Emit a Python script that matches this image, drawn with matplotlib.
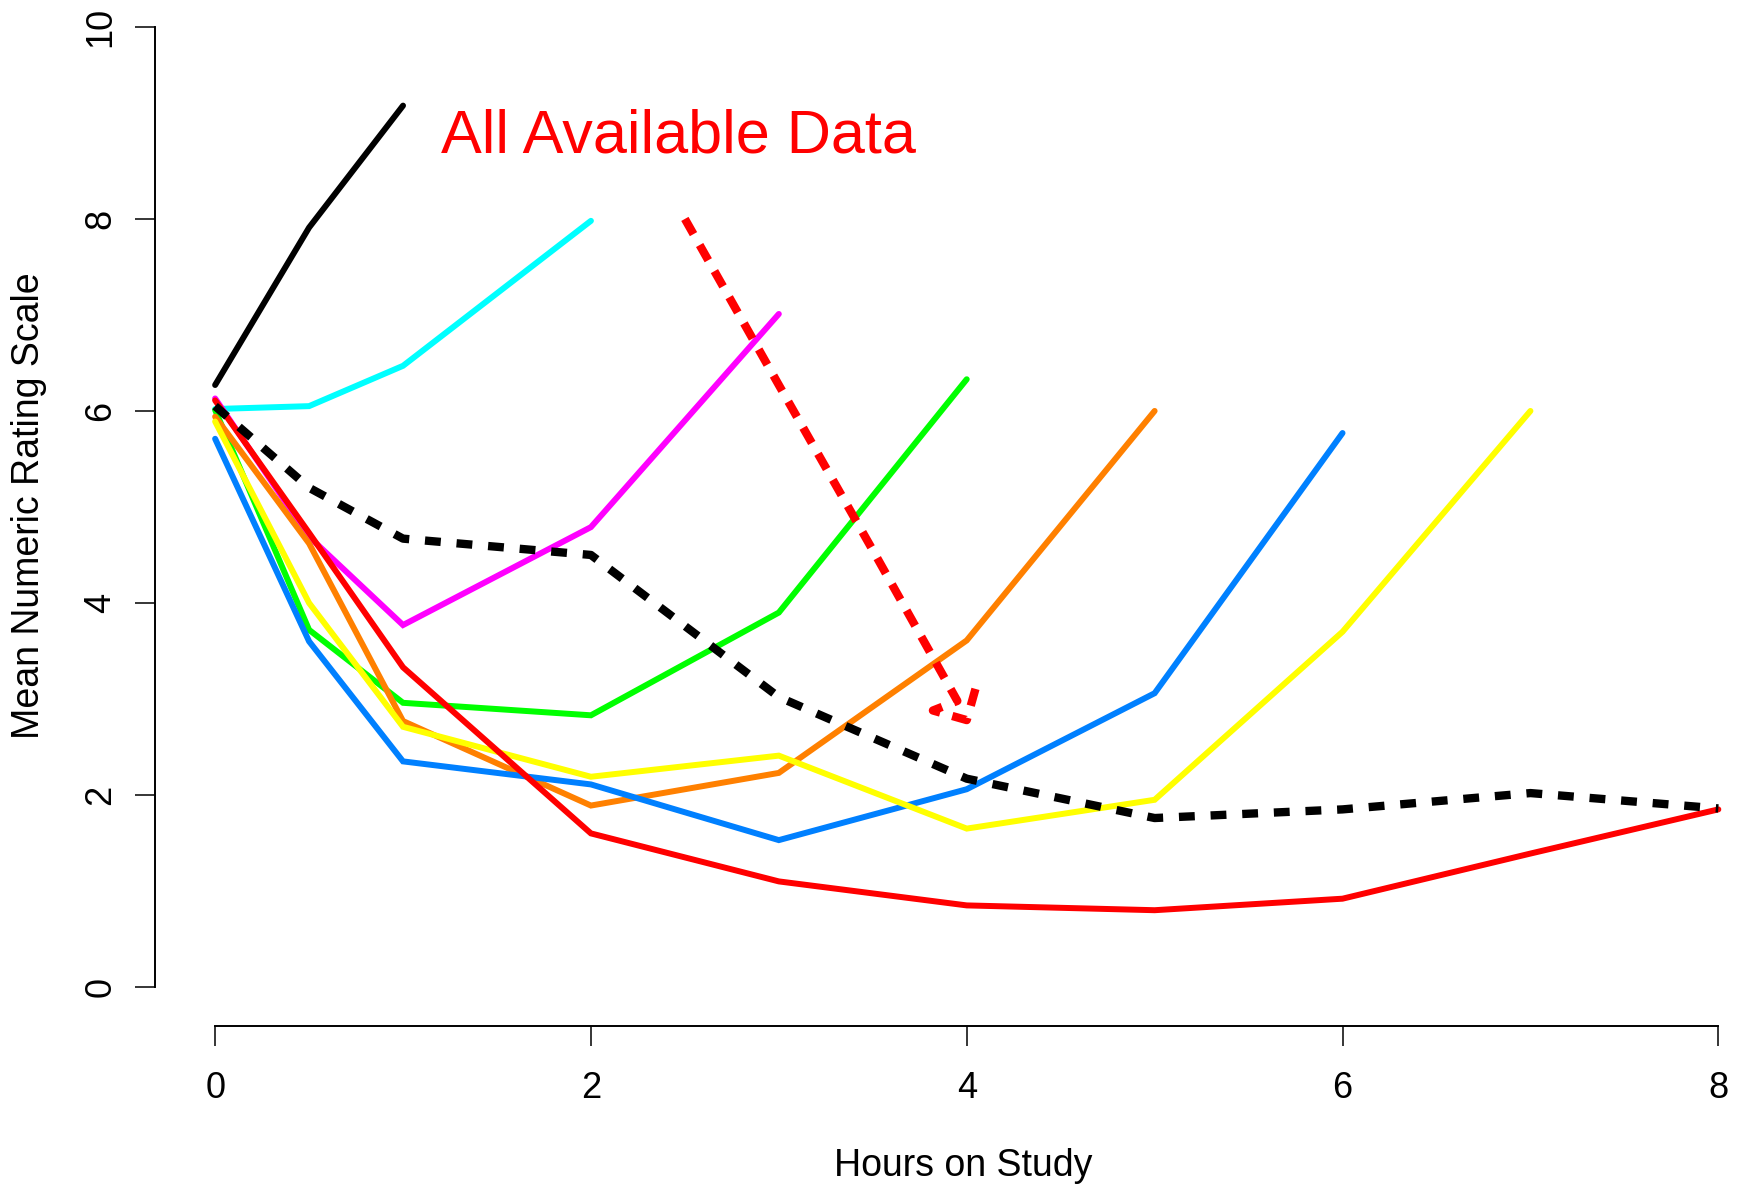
import matplotlib
matplotlib.use("Agg")
import matplotlib.pyplot as plt

plt.rcParams['font.family'] = ['Liberation Sans', 'DejaVu Sans']

# mean NRS per cohort, by hours on study
hours = [0, 0.5, 1, 2, 3, 4, 5, 6, 7, 8]

nrs_black = [6.27, 7.91, 9.18]
nrs_cyan = [6.02, 6.05, 6.47, 7.98]
nrs_magenta = [6.13, 4.69, 3.77, 4.79, 7.01]
nrs_green = [6.01, 3.72, 2.96, 2.83, 3.90, 6.33]
nrs_orange = [5.94, 4.62, 2.77, 1.89, 2.23, 3.61, 6.00]
nrs_blue = [5.71, 3.60, 2.35, 2.11, 1.53, 2.06, 3.06, 5.77]
nrs_yellow = [5.89, 4.00, 2.71, 2.19, 2.41, 1.65, 1.95, 3.70, 6.00]
nrs_red = [6.11, 4.73, 3.33, 1.60, 1.10, 0.85, 0.80, 0.92, 1.39, 1.85]

# overall mean (all available data)
nrs_mean = [6.05, 5.20, 4.67, 4.50, 3.02, 2.17, 1.76, 1.85, 2.02, 1.86]

# dropout trend
drop_hours = [2.5, 3.0, 3.5, 3.95, 3.82, 4.0, 4.06]
drop_nrs = [8.0, 6.27, 4.55, 2.98, 2.88, 2.78, 3.2]

cohorts = [
    (nrs_black, 'black'),
    (nrs_cyan, '#00FFFF'),
    (nrs_magenta, '#FF00FF'),
    (nrs_green, '#00FF00'),
    (nrs_orange, '#FF8000'),
    (nrs_blue, '#0080FF'),
    (nrs_yellow, '#FFFF00'),
    (nrs_red, '#FF0000'),
]

W, H = 1739, 1186
fig = plt.figure(figsize=(W / 100, H / 100), dpi=100)
ax = fig.add_axes([155 / W, (H - 1026) / H, 1 - 155 / W, 1026 / H])

for vals, col in cohorts:
    ax.plot(hours[:len(vals)], vals, color=col, lw=4.3,
            solid_capstyle='round', solid_joinstyle='miter')

ax.plot(hours, nrs_mean, color='black', lw=6.0, dashes=(1.9, 1.9),
        dash_capstyle='butt')
ax.plot(drop_hours, drop_nrs, color='#FF0000', lw=6.0, dashes=(2.1, 1.5),
        dash_capstyle='butt')

ax.set_xlim(-0.32, 8.11)
ax.set_ylim(-0.406, 10.28)

for s in ['top', 'right']:
    ax.spines[s].set_visible(False)
ax.spines['left'].set_bounds(0, 10)
ax.spines['bottom'].set_bounds(0, 8)
ax.spines['left'].set_linewidth(1.4)
ax.spines['bottom'].set_linewidth(1.4)

ax.set_xticks([0, 2, 4, 6, 8])
ax.set_yticks([0, 2, 4, 6, 8, 10])
ax.tick_params(axis='both', length=14.4, width=1.1, labelsize=26)
ax.tick_params(axis='x', pad=18)
ax.tick_params(axis='y', pad=12)
for lab in ax.get_yticklabels():
    lab.set_rotation(90)
    lab.set_va('center')

ax.set_xlabel('Hours on Study', fontsize=27)
ax.set_ylabel('Mean Numeric Rating Scale', fontsize=27)
ax.xaxis.set_label_coords(0.51, -0.119)
ax.yaxis.set_label_coords(-0.068, 0.507)

ax.text(1.2, 8.69, 'All Available Data', color='#FF0000', fontsize=44,
        ha='left', va='baseline')

fig.savefig('out.png', dpi=100)
